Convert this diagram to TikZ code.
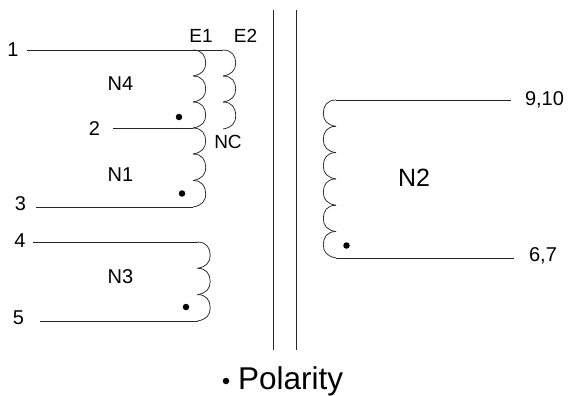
\documentclass[tikz,border=0pt]{standalone}
\usepackage{fontspec}
\setmainfont{Liberation Sans}
\begin{document}
\begin{tikzpicture}[x=1pt,y=-1pt,
  wire/.style={line width=0.75pt,black!85},
  core/.style={line width=0.9pt,black!85},
  lab/.style={inner sep=0pt,font=\fontsize{20}{20}\selectfont},
  labm/.style={inner sep=0pt,font=\fontsize{19}{19}\selectfont},
  labn/.style={inner sep=0pt,font=\fontsize{20}{20}\selectfont},
  labbig/.style={inner sep=0pt,font=\fontsize{25}{25}\selectfont},
  labhuge/.style={inner sep=0pt,font=\fontsize{31.5}{31.5}\selectfont},
  pol/.style={circle,fill=black,inner sep=0pt,minimum size=6.5pt}]
\useasboundingbox (0,0) rectangle (570,396);
% coordinates
\coordinate (t1) at (27,50);
\coordinate (e1) at (193,50);
\coordinate (e2) at (223,50);
\coordinate (t2) at (113,128);
\coordinate (m) at (193,128);
\coordinate (t3) at (36,207);
\coordinate (b1) at (193,207);
\coordinate (t4) at (33,242);
\coordinate (c3a) at (197.5,242);
\coordinate (t5) at (40,321);
\coordinate (c3b) at (197.5,321);
\coordinate (t9) at (511,100);
\coordinate (c2a) at (336,100);
\coordinate (t6) at (514,258);
\coordinate (c2b) at (336,258);
\coordinate (ca) at (273.5,10);
\coordinate (cb) at (273.5,350);
\coordinate (cc) at (296,10);
\coordinate (cd) at (296,350);
% core
\draw[core] (ca) -- (cb);
\draw[core] (cc) -- (cd);
% leads
\draw[wire] (t1) -- (e2);
\draw[wire] (t2) -- (m);
\draw[wire] (t3) -- (b1);
\draw[wire] (t4) -- (c3a);
\draw[wire] (t5) -- (c3b);
\draw[wire] (t9) -- (c2a);
\draw[wire] (t6) -- (c2b);
% coils
\def\loopR#1#2#3{\draw[wire] (#1,#2) .. controls (#1+9,#2+0) and (#1+12.7,#2+6) .. (#1+12.7,#2+#3/2) .. controls (#1+12.7,#2+#3-6) and (#1+9,#2+#3-1.5) .. (#1,#2+#3);}
\def\loopL#1#2#3{\draw[wire] (#1,#2) .. controls (#1-9,#2+0) and (#1-12.7,#2+6) .. (#1-12.7,#2+#3/2) .. controls (#1-12.7,#2+#3-6) and (#1-9,#2+#3-1.5) .. (#1,#2+#3);}
\loopR{193}{50}{26}\loopR{193}{76}{26}\loopR{193}{102}{26}
\loopR{193}{128}{26}\loopR{193}{154}{26.5}\loopR{193}{180.5}{26.5}
\loopR{223}{50}{26}\loopR{223}{76}{26}\loopR{223}{102}{27}
\loopR{197.5}{242}{26.3}\loopR{197.5}{268.3}{26.3}\loopR{197.5}{294.6}{26.4}
\foreach \y in {100,126.3,152.6,178.9,205.2,231.5}{\loopL{336}{\y}{26.4}}
% polarity dots
\node[pol] (d1) at (179,117) {};
\node[pol] (d2) at (182,193.5) {};
\node[pol] (d3) at (186,307) {};
\node[pol] (d4) at (346.5,245.5) {};
\node[pol] (d5) at (226,381) {};
% labels
\node[lab] (n1) at (13,50) {1};
\node[lab] (n2) at (94.5,129) {2};
\node[lab] (n3) at (20.5,204) {3};
\node[lab] (n4) at (20,240.5) {4};
\node[lab] (n5) at (18.5,318) {5};
\node[labm] (e1l) at (201,36) {E1};
\node[labm] (e2l) at (245.5,36) {E2};
\node[labm] (nc) at (228,142) {NC};
\node[labn] (n4l) at (120.5,84) {N4};
\node[labn] (n1l) at (120.5,175) {N1};
\node[labn] (n3l) at (120.5,277) {N3};
\node[labbig] (n2l) at (414,178) {N2};
\node[lab] (l9) at (544.5,100) {9,10};
\node[lab] (l6) at (543,256) {6,7};
\node[labhuge,anchor=west] (pl) at (238,381) {Polarity};
\end{tikzpicture}
\end{document}
